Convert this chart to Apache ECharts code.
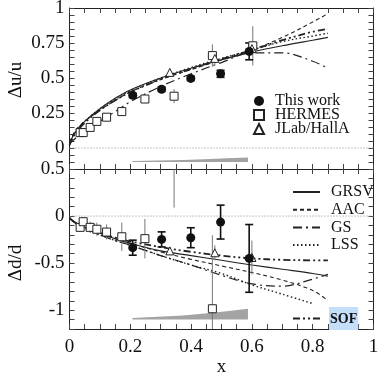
<!DOCTYPE html>
<html><head><meta charset="utf-8">
<script src="https://cdn.jsdelivr.net/npm/echarts@6/dist/echarts.min.js"></script>
<style>html,body{margin:0;padding:0;background:#fff}#c{width:382px;height:373px}</style>
</head><body><div id="c"></div>
<script>
// ---------- tick labels ----------
const xTickLabels = ['0', '0.2', '0.4', '0.6', '0.8', '1'];
const uTickLabels = ['0', '0.25', '0.5', '0.75', '1'];
const dTickLabels = ['-1', '-0.5', '0', '0.5'];

// ---------- model curves ----------
const modelX = [0, 0.01, 0.025, 0.05, 0.1, 0.15, 0.2, 0.3, 0.4, 0.5, 0.6, 0.7, 0.8, 0.85];
const grsvU = [0.02, 0.08, 0.13, 0.19, 0.28, 0.355, 0.415, 0.50, 0.57, 0.63, 0.685, 0.73, 0.77, 0.79];
const aacU  = [0.04, 0.09, 0.14, 0.19, 0.27, 0.34, 0.40, 0.49, 0.56, 0.63, 0.70, 0.79, 0.90, 0.96];
const gsU   = [0.03, 0.05, 0.08, 0.12, 0.19, 0.26, 0.33, 0.44, 0.53, 0.61, 0.68, 0.68, 0.62, 0.57];
const lssU  = [0.03, 0.08, 0.13, 0.19, 0.28, 0.35, 0.41, 0.50, 0.575, 0.64, 0.70, 0.76, 0.80, 0.82];
const sofU  = [0.02, 0.07, 0.12, 0.18, 0.27, 0.34, 0.40, 0.49, 0.565, 0.635, 0.70, 0.77, 0.83, 0.85];

const grsvD = [-0.02, -0.05, -0.08, -0.12, -0.18, -0.24, -0.29, -0.37, -0.42, -0.47, -0.52, -0.565, -0.61, -0.64];
const aacD  = [-0.02, -0.05, -0.08, -0.12, -0.18, -0.24, -0.29, -0.38, -0.46, -0.53, -0.60, -0.68, -0.79, -0.90];
const gsD   = [-0.02, -0.05, -0.09, -0.13, -0.20, -0.26, -0.31, -0.42, -0.52, -0.63, -0.72, -0.745, -0.67, -0.62];
const lssD  = [-0.02, -0.05, -0.09, -0.13, -0.20, -0.26, -0.31, -0.42, -0.52, -0.61, -0.73, -0.83, -0.93, null];
const sofD  = [-0.02, -0.05, -0.08, -0.12, -0.18, -0.23, -0.27, -0.33, -0.38, -0.42, -0.45, -0.465, -0.47, -0.47];

// ---------- data points ----------
const thisX  = [0.208, 0.303, 0.399, 0.497, 0.591];
const thisU  = [0.376, 0.42, 0.497, 0.53, 0.69];
const thisUe = [0.015, 0.015, 0.015, 0.025, 0.06];
const thisD  = [-0.336, -0.248, -0.23, -0.064, -0.45];
const thisDe = [0.08, 0.08, 0.106, 0.18, 0.36];

const hermUX = [0.035, 0.045, 0.068, 0.09, 0.122, 0.172, 0.248, 0.344, 0.47, 0.603];
const hermU  = [0.11, 0.11, 0.147, 0.19, 0.22, 0.26, 0.35, 0.37, 0.66, 0.73];
const hermUe = [0.01, 0.01, 0.012, 0.015, 0.02, 0.025, 0.03, 0.05, 0.08, 0.14];
const hermDX = [0.035, 0.045, 0.068, 0.09, 0.122, 0.172, 0.248, 0.344, 0.47];
const hermD  = [-0.12, -0.06, -0.12, -0.14, -0.17, -0.22, -0.24, 0.75, -0.985];
const hermDe = [0.04, 0.05, 0.06, 0.07, 0.08, 0.15, 0.21, 0.66, 0.78];

const jlabX  = [0.33, 0.478, 0.6];
const jlabU  = [0.54, 0.64, 0.71];
const jlabUe = [0.02, 0.04, 0.05];
const jlabD  = [-0.37, -0.39, -0.44];
const jlabDe = [0.04, 0.08, 0.18];

// systematic bands
const bandX  = [0.207, 0.374, 0.462, 0.517, 0.587];
const bandUBase = -0.1;
const bandUH = [0.008, 0.015, 0.021, 0.026, 0.032];
const bandDBase = -1.1;
const bandDH = [0.018, 0.043, 0.071, 0.089, 0.114];

const zeroX = [0, 1];

// ---------- helpers ----------
const FONT = 'Liberation Serif';
const zip = (xs, ys) => xs.map((x, i) => [x, ys[i]]);
const zip3 = (xs, ys, es) => xs.map((x, i) => [x, ys[i], es[i]]);
function matchLabel(labels, v) {
  for (const l of labels) if (Math.abs(parseFloat(l) - v) < 1e-6) return l;
  return '';
}
function errRender(cap, color, width) {
  return function (params, api) {
    const x = api.value(0), y = api.value(1), e = api.value(2);
    const p1 = api.coord([x, y + e]), p2 = api.coord([x, y - e]);
    const ch = [{ type: 'line', shape: { x1: p1[0], y1: p1[1], x2: p2[0], y2: p2[1] }, style: { stroke: color, lineWidth: width } }];
    if (cap) {
      ch.push({ type: 'line', shape: { x1: p1[0] - cap, y1: p1[1], x2: p1[0] + cap, y2: p1[1] }, style: { stroke: color, lineWidth: width } });
      ch.push({ type: 'line', shape: { x1: p2[0] - cap, y1: p2[1], x2: p2[0] + cap, y2: p2[1] }, style: { stroke: color, lineWidth: width } });
    }
    return { type: 'group', children: ch };
  };
}
function bandRender(bx, base, h) {
  return function (params, api) {
    if (params.dataIndex !== 0) return null;
    const pts = [];
    for (let i = 0; i < bx.length; i++) pts.push(api.coord([bx[i], base + h[i]]));
    for (let i = bx.length - 1; i >= 0; i--) pts.push(api.coord([bx[i], base]));
    return { type: 'polygon', shape: { points: pts }, style: { fill: '#a3a3a3' } };
  };
}

const styles = {
  GRSV: { type: 'solid', width: 1.1 },
  AAC: { type: [4, 3], width: 1.1 },
  GS: { type: [9, 4, 2, 4], width: 1.2 },
  LSS: { type: [1.5, 2.5], width: 1.4 },
  SOF: { type: [7, 3, 2, 3, 2, 3], width: 1.8 }
};
function curve(name, ys, g) {
  return {
    name, type: 'line', xAxisIndex: g * 2, yAxisIndex: g * 2, data: zip(modelX, ys),
    showSymbol: false, symbol: 'none', smooth: 0.35, connectNulls: false,
    itemStyle: { color: '#222' },
    lineStyle: { color: '#222', type: styles[name].type, width: styles[name].width }, z: 3, silent: true
  };
}
function errSeries(name, data, g, cap, color, width) {
  return { name, type: 'custom', xAxisIndex: g * 2, yAxisIndex: g * 2, data, clip: true,
    encode: { x: 0, y: 1 }, renderItem: errRender(cap, color, width), z: 4, silent: true };
}
function scat(name, data, g, symbol, size, fill, z) {
  return { name, type: 'scatter', xAxisIndex: g * 2, yAxisIndex: g * 2, data, symbol, symbolSize: size, clip: true,
    itemStyle: { color: fill, borderColor: '#222', borderWidth: fill === '#fff' ? 1 : 0, opacity: 1 }, z, silent: true };
}

const TICK = { show: true, inside: false, length: -5, lineStyle: { color: '#444' } };
function xAxes(g) {
  const base = {
    gridIndex: g, type: 'value', min: 0, max: 1, interval: 0.05,
    axisLine: { show: true, onZero: false, lineStyle: { color: '#222', width: 1 } },
    axisTick: TICK,
    splitLine: { show: false }
  };
  return [
    Object.assign({}, base, { position: 'bottom',
      axisLabel: { show: g === 1, showMinLabel: true, showMaxLabel: true, fontFamily: FONT, fontSize: 19, color: '#111', margin: 9,
        formatter: v => matchLabel(xTickLabels, v) },
      name: g === 1 ? 'x' : '', nameLocation: 'middle', nameGap: 27,
      nameTextStyle: { fontFamily: FONT, fontSize: 19, color: '#111' } }),
    Object.assign({}, base, { position: 'top', axisLabel: { show: false } })
  ];
}
function yAxes(g, min, max, interval, labels) {
  const base = {
    gridIndex: g, type: 'value', min, max, interval,
    axisLine: { show: true, onZero: false, lineStyle: { color: '#222', width: 1 } },
    axisTick: TICK,
    splitLine: { show: false }
  };
  return [
    Object.assign({}, base, { position: 'left',
      axisLabel: { show: true, showMinLabel: true, showMaxLabel: true, fontFamily: FONT, fontSize: 19, color: '#111', margin: 5,
        formatter: v => matchLabel(labels, v) } }),
    Object.assign({}, base, { position: 'right', axisLabel: { show: false } })
  ];
}

const series = [
  { type: 'custom', name: 'sysU', xAxisIndex: 0, yAxisIndex: 0, data: zip(bandX, bandUH), renderItem: bandRender(bandX, bandUBase, bandUH), z: 1, silent: true },
  { type: 'custom', name: 'sysD', xAxisIndex: 2, yAxisIndex: 2, data: zip(bandX, bandDH), renderItem: bandRender(bandX, bandDBase, bandDH), z: 1, silent: true },
  { type: 'line', name: 'zeroU', xAxisIndex: 0, yAxisIndex: 0, data: zeroX.map(x => [x, 0]), symbol: 'none', lineStyle: { color: '#888', width: 1, type: [1, 2] }, z: 1, silent: true },
  { type: 'line', name: 'zeroD', xAxisIndex: 2, yAxisIndex: 2, data: zeroX.map(x => [x, 0]), symbol: 'none', lineStyle: { color: '#888', width: 1, type: [1, 2] }, z: 1, silent: true },
  curve('GRSV', grsvU, 0), curve('AAC', aacU, 0), curve('GS', gsU, 0), curve('LSS', lssU, 0), curve('SOF', sofU, 0),
  curve('GRSV', grsvD, 1), curve('AAC', aacD, 1), curve('GS', gsD, 1), curve('LSS', lssD, 1), curve('SOF', sofD, 1),
  errSeries('hermUe', zip3(hermUX, hermU, hermUe), 0, 0, '#777', 1),
  errSeries('jlabUe', zip3(jlabX, jlabU, jlabUe), 0, 0, '#777', 1),
  errSeries('thisUe', zip3(thisX, thisU, thisUe), 0, 4, '#111', 1.6),
  errSeries('hermDe', zip3(hermDX, hermD, hermDe), 1, 0, '#777', 1),
  errSeries('jlabDe', zip3(jlabX, jlabD, jlabDe), 1, 0, '#777', 1),
  errSeries('thisDe', zip3(thisX, thisD, thisDe), 1, 4, '#111', 1.6),
  scat('This work', zip(thisX, thisU), 0, 'circle', 9, '#111', 6),
  scat('HERMES', zip(hermUX, hermU), 0, 'rect', 8, '#fff', 5),
  scat('JLab/HallA', zip(jlabX, jlabU), 0, 'triangle', 8, '#fff', 5),
  scat('This work', zip(thisX, thisD), 1, 'circle', 9, '#111', 6),
  scat('HERMES', zip(hermDX, hermD), 1, 'rect', 8, '#fff', 5),
  scat('JLab/HallA', zip(jlabX, jlabD), 1, 'triangle', 8, '#fff', 5)
];

const option = {
  animation: false,
  backgroundColor: '#fff',
  textStyle: { fontFamily: FONT },
  grid: [
    { left: 69.5, right: 8.5, top: 8, height: 161, containLabel: false, outerBoundsMode: 'none' },
    { left: 69.5, right: 8.5, top: 169, height: 160, containLabel: false, outerBoundsMode: 'none' }
  ],
  xAxis: [...xAxes(0), ...xAxes(1)],
  yAxis: [...yAxes(0, -0.15, 1, 0.05, uTickLabels), ...yAxes(1, -1.2, 0.5, 0.1, dTickLabels)],
  legend: [
    { left: 248, top: 88, orient: 'vertical', itemWidth: 10, itemHeight: 10, itemGap: -2, selectedMode: false,
      data: ['This work', 'HERMES', 'JLab/HallA'],
      formatter: n => '{s|}{t|' + n + '}',
      textStyle: { color: '#111', fontFamily: FONT, fontSize: 16,
        rich: { s: { width: 6 }, t: { fontFamily: FONT, fontSize: 16, color: '#111' } } } },
    { left: 287, top: 179, orient: 'vertical', itemWidth: 27, itemHeight: 10, itemGap: 1.7, selectedMode: false,
      data: ['GRSV', 'AAC', 'GS', 'LSS'],
      itemStyle: { opacity: 0 },
      formatter: n => '{s|}{t|' + n + '}',
      textStyle: { color: '#111', fontFamily: FONT, fontSize: 16,
        rich: { s: { width: 6 }, t: { fontFamily: FONT, fontSize: 16, color: '#111' } } } },
    { left: 287, top: 302, orient: 'vertical', itemWidth: 27, itemHeight: 10, selectedMode: false,
      data: ['SOF'],
      itemStyle: { opacity: 0 },
      formatter: n => '{s|}{b|' + n + '}',
      textStyle: { color: '#111', fontFamily: FONT, fontSize: 14,
        rich: { s: { width: 4 }, b: { fontFamily: FONT, fontSize: 14, fontWeight: 'bold', color: '#111', backgroundColor: '#c5def9', padding: [5, 1, 4, 1] } } } }
  ],
  graphic: [
    { type: 'text', x: 16, y: 80, rotation: Math.PI / 2, style: { text: 'Δu/u', font: '19px "Liberation Serif"', fill: '#111', align: 'center', verticalAlign: 'middle' } },
    { type: 'text', x: 16, y: 263, rotation: Math.PI / 2, style: { text: 'Δd/d', font: '19px "Liberation Serif"', fill: '#111', align: 'center', verticalAlign: 'middle' } }
  ],
  series
};
const chart = echarts.init(document.getElementById('c'), null, { renderer: 'canvas' });
chart.setOption(option);
</script></body></html>
